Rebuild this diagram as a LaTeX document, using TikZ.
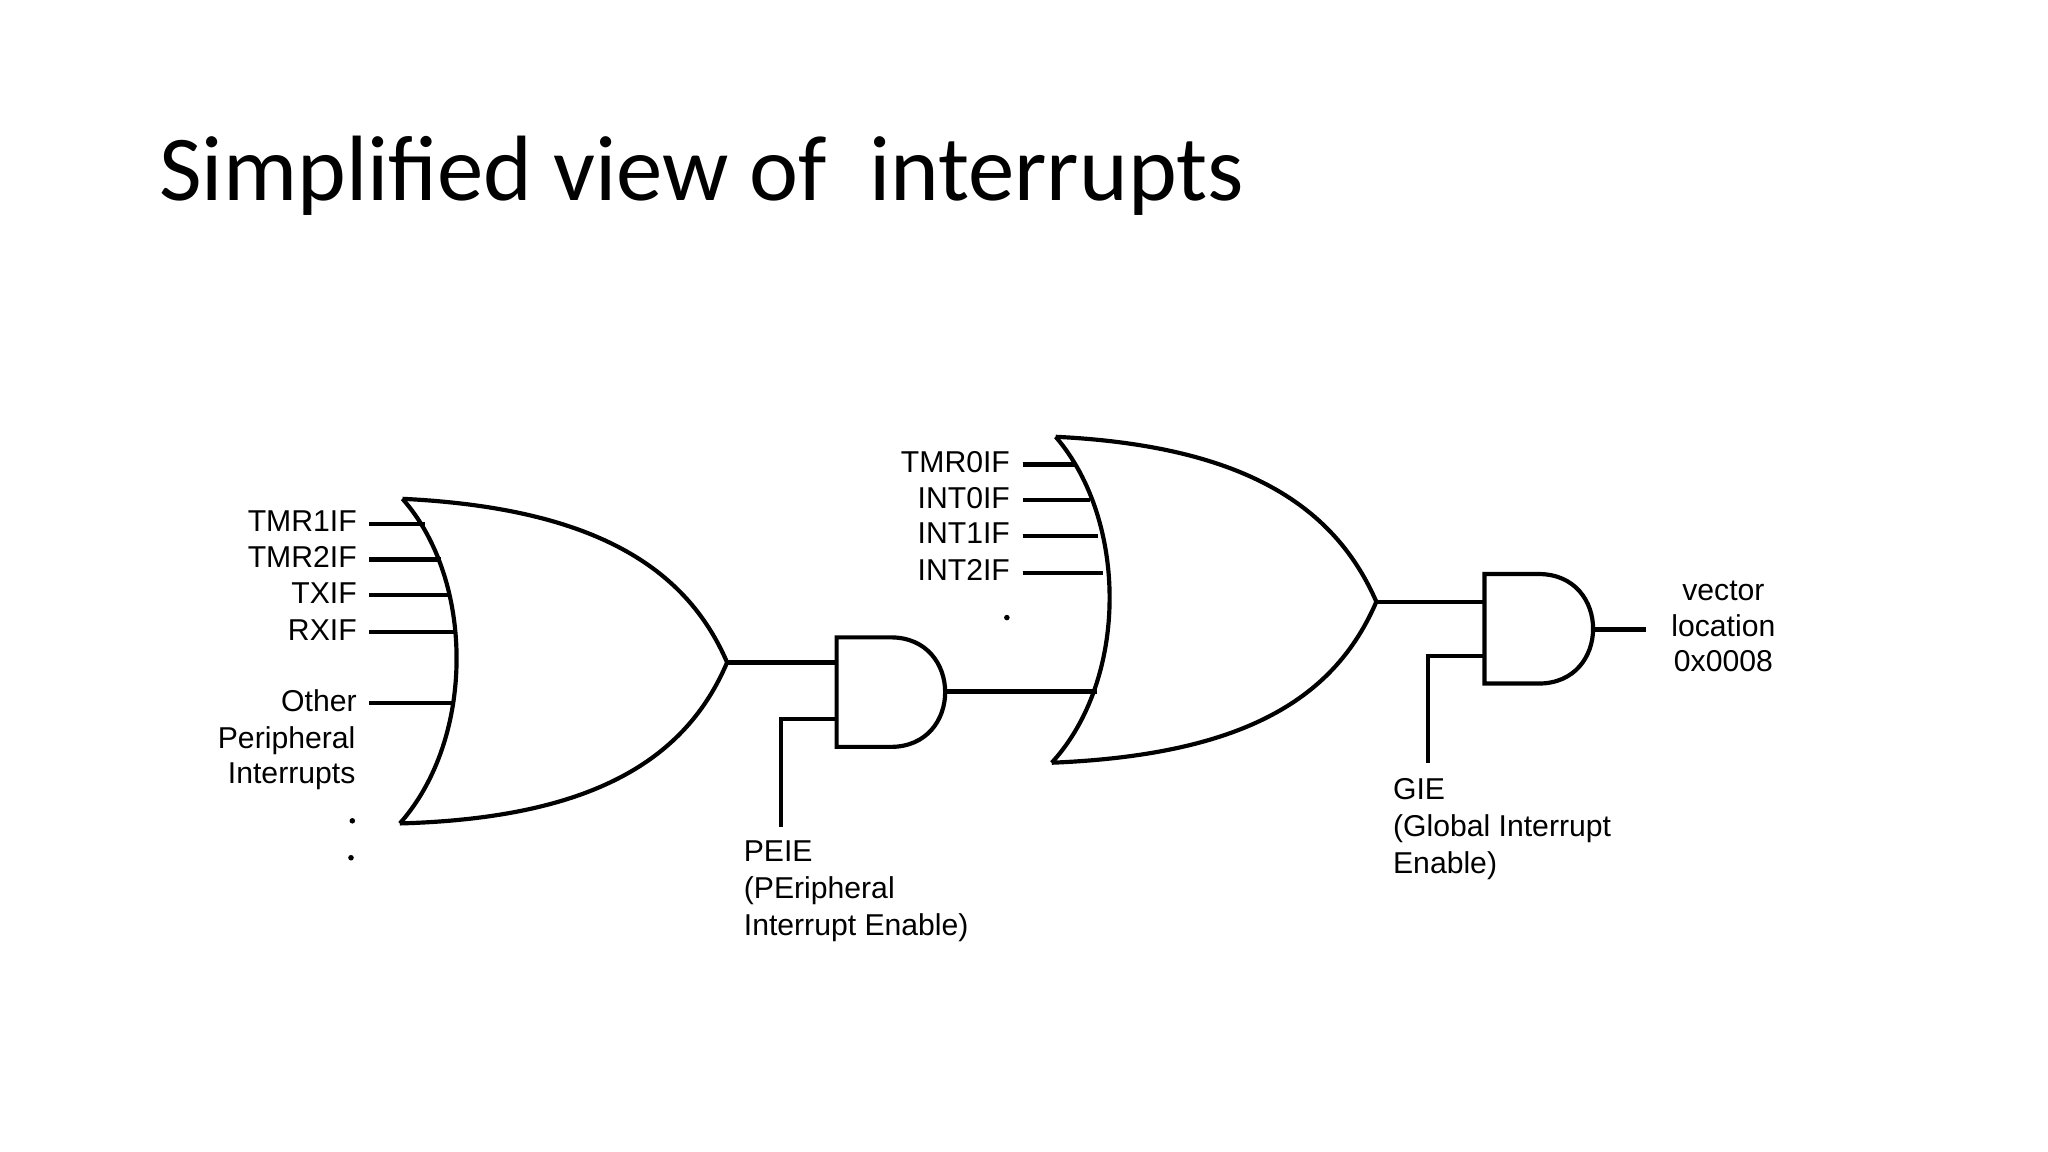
\documentclass[tikz,border=0pt]{standalone}
\usepackage{fontspec}
\setmainfont{Liberation Sans}
\newfontfamily\titlefont{Carlito}
\begin{document}
\begin{tikzpicture}[x=0.01cm,y=-0.01cm,
  wire/.style={line width=0.9pt},
  gate/.style={line width=0.9pt},
  lbl/.style={font=\fontsize{6.5}{8}\selectfont,inner sep=0pt},
  dotm/.style={fill=black,inner sep=0pt,minimum size=1.2pt,circle}]
\useasboundingbox (0,0) rectangle (1552,873);
\node[anchor=base west,inner sep=0pt,font=\titlefont\fontsize{20}{24}\selectfont] (title) at (120,152) {Simplified view of\ \ interrupts};
% OR gate 1
\draw[gate] (305,378) .. controls (360,440) and (360,560) .. (303,624);
\draw[gate] (305,378) .. controls (450,385) and (520,430) .. (551,502)
  .. controls (520,575) and (450,620) .. (303,624);
\coordinate (o1) at (551,502);
\foreach \y/\xe/\t/\n in {397/322/TMR1IF/a,424/334/TMR2IF/b,451/340/TXIF/c,479/344/RXIF/d,533/344/Other/e}{
  \node[lbl,anchor=base east] (l\n) at (271,\y+6) {\t};
  \coordinate (e\n) at (\xe,\y);
  \draw[wire] (280,\y) -- (e\n);
}
\node[lbl,anchor=base east] (lf) at (270,567) {Peripheral};
\node[lbl,anchor=base east] (lg) at (270,594) {Interrupts};
\node[dotm] (d1) at (267,622) {};
\node[dotm] (d2) at (266,650) {};
% AND gate 1
\draw[gate] (675,483) -- (634,483) -- (634,566) -- (675,566) .. controls (730,566) and (730,483) .. (675,483);
\coordinate (a1) at (716,524);
\draw[wire] (o1) -- (634,502);
\coordinate (p1) at (592,627);
\draw[wire] (634,545) -- (592,545) -- (p1);
\node[lbl,anchor=base west] (peie1) at (563,653) {PEIE};
\node[lbl,anchor=base west] (peie2) at (563,681) {(PEripheral};
\node[lbl,anchor=base west] (peie3) at (563,709) {Interrupt Enable)};
% OR gate 2
\draw[gate] (800,331) .. controls (855,395) and (855,515) .. (797,578);
\draw[gate] (800,331) .. controls (945,338) and (1012,385) .. (1043,456)
  .. controls (1012,528) and (945,572) .. (797,578);
\coordinate (o2) at (1043,456);
\draw[wire] (a1) -- (831,524);
\foreach \y/\xe/\t/\n in {352/815/TMR0IF/h,379/826/INT0IF/i,406/832/INT1IF/j,434/836/INT2IF/k}{
  \node[lbl,anchor=base east] (l\n) at (766,\y+6) {\t};
  \coordinate (e\n) at (\xe,\y);
  \draw[wire] (775,\y) -- (e\n);
}
\node[dotm] (d3) at (763,468) {};
% AND gate 2
\draw[gate] (1166,435) -- (1125,435) -- (1125,518) -- (1166,518) .. controls (1221,518) and (1221,435) .. (1166,435);
\draw[wire] (o2) -- (1125,456);
\coordinate (a2) at (1207,477);
\coordinate (out) at (1247,477);
\draw[wire] (a2) -- (out);
\coordinate (g1) at (1082,578);
\draw[wire] (1125,497) -- (1082,497) -- (g1);
\node[lbl,anchor=base west] (gie1) at (1055,606) {GIE};
\node[lbl,anchor=base west] (gie2) at (1055,634) {(Global Interrupt};
\node[lbl,anchor=base west] (gie3) at (1055,662) {Enable)};
\node[lbl,anchor=base] (vec1) at (1306,455) {vector};
\node[lbl,anchor=base] (vec2) at (1306,482) {location};
\node[lbl,anchor=base] (vec3) at (1306,509) {0x0008};
\end{tikzpicture}
\end{document}
